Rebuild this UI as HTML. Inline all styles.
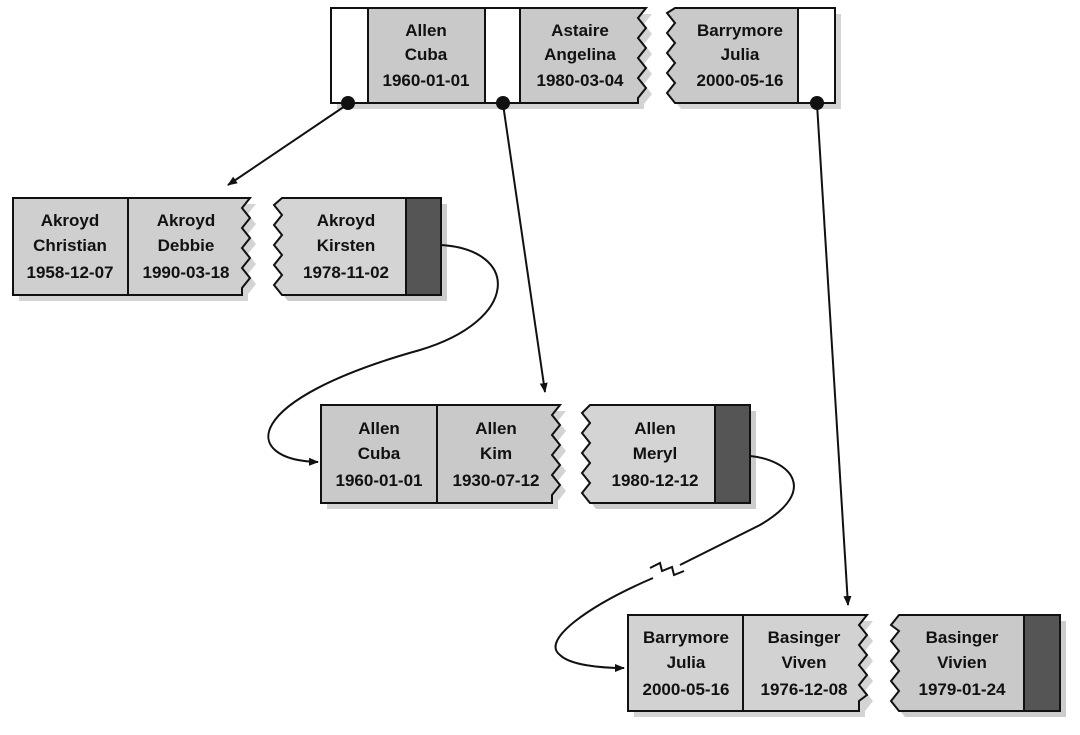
<!DOCTYPE html>
<html><head><meta charset="utf-8"><style>
html,body{margin:0;padding:0;background:#fff;}
svg{display:block}
text{font-family:"Liberation Sans Narrow","Liberation Sans",sans-serif;font-weight:bold;font-size:17px;fill:#111;text-anchor:middle}
</style></head><body>
<svg width="1080" height="735" viewBox="0 0 1080 735" xmlns="http://www.w3.org/2000/svg">
<defs>
<filter id="n" x="0" y="0" width="1" height="1">
<feTurbulence type="fractalNoise" baseFrequency="0.9" numOctaves="1" seed="3"/>
<feColorMatrix values="0 0 0 0 0.5  0 0 0 0 0.5  0 0 0 0 0.5  0 0 0 -1.2 1.1"/>
<feComposite in2="SourceGraphic" operator="in"/>
</filter>
<marker id="a" markerWidth="10" markerHeight="10" refX="9" refY="5" orient="auto" markerUnits="userSpaceOnUse"><path d="M0,1 L10,5 L0,9 Z" fill="#111"/></marker>
</defs>
<g stroke="#111" stroke-width="2">
<!-- TOP -->
<path d="M337,14 H652 l-8,10 8,10 -8,10 8,10 -8,10 8,10 -8,10 8,10 -8,10 V109 H337Z" fill="#aaa" stroke="none" opacity=".5"/>
<path d="M681,14 H841 V109 H681 l-8,-10 8,-10 -8,-10 8,-10 -8,-10 8,-10 -8,-10 8,-10 -8,-10Z" fill="#aaa" stroke="none" opacity=".5"/>
<rect x="331" y="8" width="37" height="95" fill="#fff"/>
<rect x="368" y="8" width="117" height="95" fill="#c9c9c9"/>
<rect x="485" y="8" width="35" height="95" fill="#fff"/>
<path d="M520,8 H646 l-8,10 8,10 -8,10 8,10 -8,10 8,10 -8,10 8,10 -8,10 V103 H520Z" fill="#c9c9c9"/>
<path d="M675,8 H798 V103 H675 l-8,-10 8,-10 -8,-10 8,-10 -8,-10 8,-10 -8,-10 8,-10 -8,-10Z" fill="#c9c9c9"/>
<rect x="798" y="8" width="37" height="95" fill="#fff"/>
<!-- ROW 2 -->
<path d="M19,204 H256 l-8,10 8,10 -8,10 8,10 -8,10 8,10 -8,10 8,10 -8,10 V301 H19Z" fill="#aaa" stroke="none" opacity=".5"/>
<path d="M288,204 H447 V301 H288 l-8,-10 8,-10 -8,-10 8,-10 -8,-10 8,-10 -8,-10 8,-10 -8,-10Z" fill="#999" stroke="none" opacity=".5"/>
<rect x="13" y="198" width="115" height="97" fill="#cfcfcf"/>
<path d="M128,198 H250 l-8,10 8,10 -8,10 8,10 -8,10 8,10 -8,10 8,10 -8,10 V295 H128Z" fill="#cfcfcf"/>
<path d="M282,198 H406 V295 H282 l-8,-10 8,-10 -8,-10 8,-10 -8,-10 8,-10 -8,-10 8,-10 -8,-10Z" fill="#d4d4d4"/>
<rect x="406" y="198" width="35" height="97" fill="#555"/>
<!-- ROW 3 -->
<path d="M327,411 H566 l-8,10 8,10 -8,10 8,10 -8,10 8,10 -8,10 8,10 -8,10 V509 H327Z" fill="#aaa" stroke="none" opacity=".5"/>
<path d="M596,411 H756 V509 H596 l-8,-10 8,-10 -8,-10 8,-10 -8,-10 8,-10 -8,-10 8,-10 -8,-10Z" fill="#999" stroke="none" opacity=".5"/>
<rect x="321" y="405" width="116" height="98" fill="#c9c9c9"/>
<path d="M437,405 H560 l-8,10 8,10 -8,10 8,10 -8,10 8,10 -8,10 8,10 -8,10 V503 H437Z" fill="#c9c9c9"/>
<path d="M590,405 H715 V503 H590 l-8,-10 8,-10 -8,-10 8,-10 -8,-10 8,-10 -8,-10 8,-10 -8,-10Z" fill="#d4d4d4"/>
<rect x="715" y="405" width="35" height="98" fill="#555"/>
<!-- ROW 4 -->
<path d="M634,621 H873 l-8,10 8,10 -8,10 8,10 -8,10 8,10 -8,10 8,10 -8,10 V717 H634Z" fill="#aaa" stroke="none" opacity=".5"/>
<path d="M905,621 H1066 V717 H905 l-8,-10 8,-10 -8,-10 8,-10 -8,-10 8,-10 -8,-10 8,-10 -8,-10Z" fill="#999" stroke="none" opacity=".5"/>
<rect x="628" y="615" width="115" height="96" fill="#d2d2d2"/>
<path d="M743,615 H867 l-8,10 8,10 -8,10 8,10 -8,10 8,10 -8,10 8,10 -8,6 V711 H743Z" fill="#d2d2d2"/>
<path d="M899,615 H1024 V711 H899 l-8,-10 8,-10 -8,-10 8,-10 -8,-10 8,-10 -8,-10 8,-10 -8,-6Z" fill="#c9c9c9"/>
<rect x="1024" y="615" width="36" height="96" fill="#555"/>
</g>
<g fill="none" stroke="#111" stroke-width="2" marker-end="url(#a)">
<path d="M348,104 L228,185"/>
<path d="M503,104 L545,392"/>
<path d="M817,104 L848,605"/>
<path d="M441,245 C520,250 520,320 420,350 C240,400 240,460 318,462"/>
<path d="M653,578 C590,605 540,640 560,655 C570,665 600,668 624,668"/>
</g>
<path d="M750,456 C790,460 820,490 760,525 C730,540 700,555 680,565" fill="none" stroke="#111" stroke-width="2"/>
<path d="M650,568 l10,-5 2,8 10,-4 2,8 10,-4" fill="none" stroke="#111" stroke-width="2"/>
<g fill="#111"><circle cx="348" cy="103" r="7"/><circle cx="503" cy="103" r="7"/><circle cx="817" cy="103" r="7"/></g>
<g>
<text x="426" y="36">Allen</text><text x="426" y="60">Cuba</text><text x="426" y="86">1960-01-01</text>
<text x="580" y="36">Astaire</text><text x="580" y="60">Angelina</text><text x="580" y="86">1980-03-04</text>
<text x="740" y="36">Barrymore</text><text x="740" y="60">Julia</text><text x="740" y="86">2000-05-16</text>
<text x="70" y="226">Akroyd</text><text x="70" y="251">Christian</text><text x="70" y="278">1958-12-07</text>
<text x="186" y="226">Akroyd</text><text x="186" y="251">Debbie</text><text x="186" y="278">1990-03-18</text>
<text x="346" y="226">Akroyd</text><text x="346" y="251">Kirsten</text><text x="346" y="278">1978-11-02</text>
<text x="379" y="434">Allen</text><text x="379" y="459">Cuba</text><text x="379" y="486">1960-01-01</text>
<text x="496" y="434">Allen</text><text x="496" y="459">Kim</text><text x="496" y="486">1930-07-12</text>
<text x="655" y="434">Allen</text><text x="655" y="459">Meryl</text><text x="655" y="486">1980-12-12</text>
<text x="686" y="643">Barrymore</text><text x="686" y="668">Julia</text><text x="686" y="695">2000-05-16</text>
<text x="804" y="643">Basinger</text><text x="804" y="668">Viven</text><text x="804" y="695">1976-12-08</text>
<text x="962" y="643">Basinger</text><text x="962" y="668">Vivien</text><text x="962" y="695">1979-01-24</text>
</g>
</svg>
</body></html>
